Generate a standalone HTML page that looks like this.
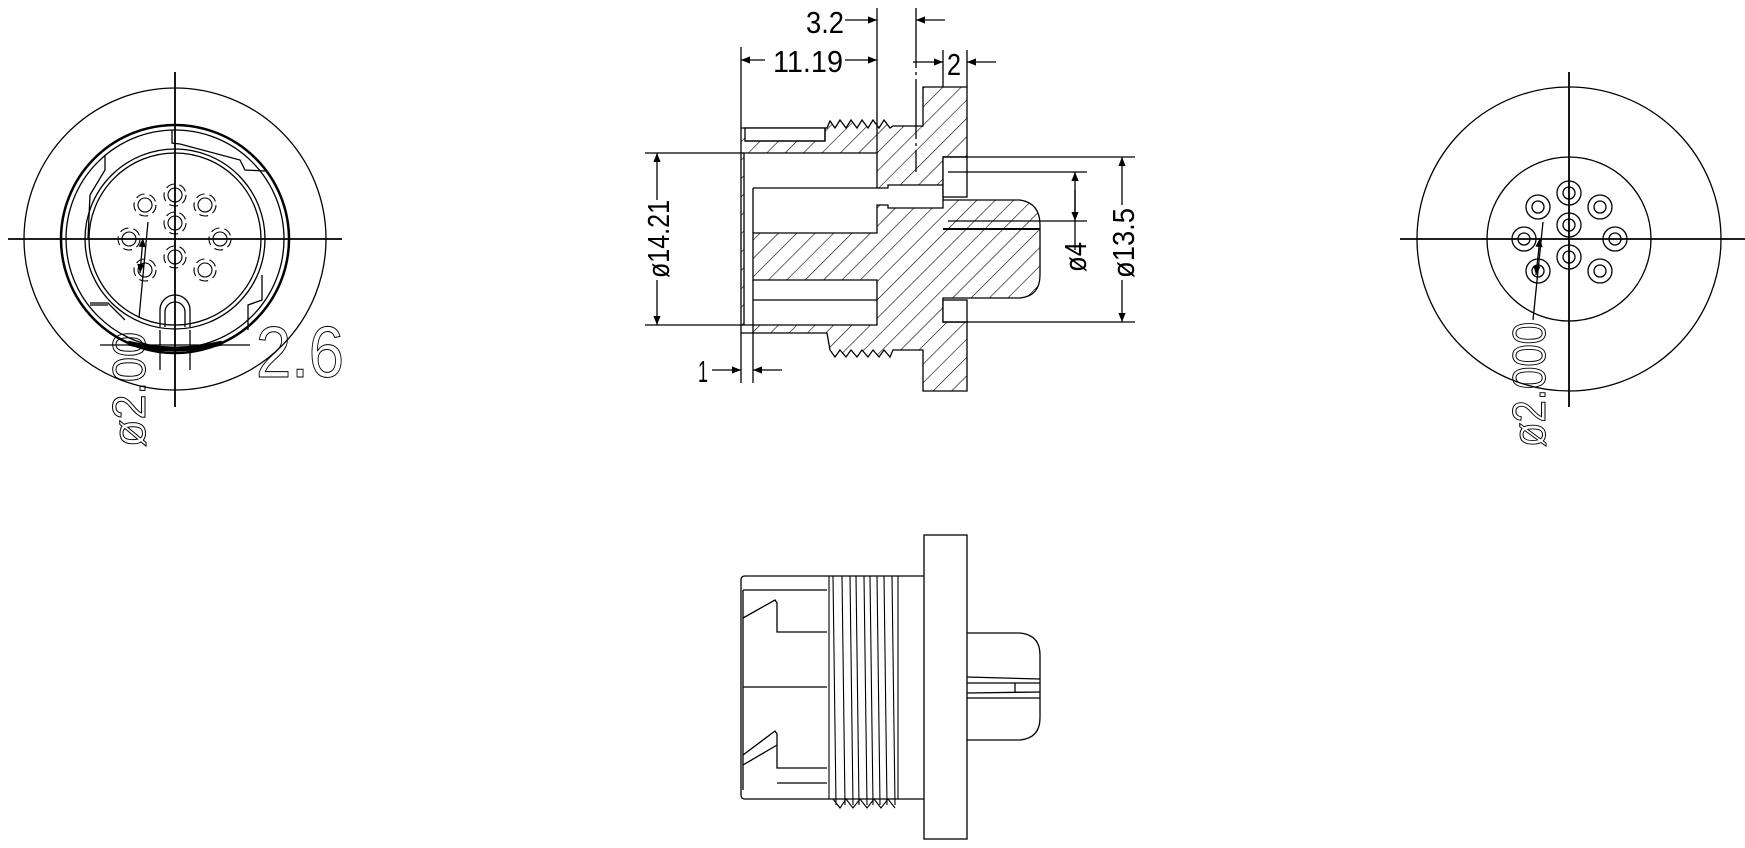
<!DOCTYPE html>
<html><head><meta charset="utf-8"><style>
html,body{margin:0;padding:0;background:#fff}
svg{display:block}
text{font-family:"Liberation Sans",sans-serif;fill:#000}
</style></head><body>
<svg width="1745" height="848" viewBox="0 0 1745 848" xmlns="http://www.w3.org/2000/svg">
<defs>
<pattern id="h" patternUnits="userSpaceOnUse" width="13" height="13" patternTransform="rotate(45)">
<rect width="13" height="13" fill="#fff"/><line x1="0" y1="0" x2="0" y2="13" stroke="#000" stroke-width="1.2"/>
</pattern>
<marker id="a" viewBox="0 0 10 10" refX="10" refY="5" markerWidth="16" markerHeight="9" markerUnits="userSpaceOnUse" orient="auto-start-reverse"><path d="M0,1 L10,5 L0,9z" fill="#000"/></marker>
</defs>
<g fill="none" stroke="#000" stroke-width="1.3">
<!-- LEFT VIEW -->
<circle cx="175" cy="239" r="151"/>
<circle cx="175" cy="239" r="114" stroke-width="2.5"/>
<circle cx="175" cy="239" r="109"/>
<circle cx="175" cy="239" r="90"/>
<circle cx="175" cy="239" r="86"/>
<path d="M172,130 L172,143 L180,144 L240,160 L245,170 L265,171"/>
<path d="M105,155 L105,170 L90,195 L88,238"/>
<path d="M108,305 L90,305 M90,303 L108,303 L125,320"/>
<path d="M262,275 L262,300 L248,305 L248,330"/>
<path d="M160,327 L160,310 A15,15 0 0 1 190,310 L190,327"/>
<path d="M165,327 L165,312 A10,10 0 0 1 185,312 L185,327"/>
<path d="M160,330 L160,370 M190,330 L190,370"/>
<line x1="100" y1="345" x2="250" y2="345"/>
<path d="M128,343 Q175,355 222,343" stroke-width="5"/>
<line x1="175" y1="72" x2="175" y2="407" stroke-width="1.8"/>
<line x1="8" y1="239" x2="342" y2="239" stroke-width="1.8"/>
<g stroke-width="1.1">
<circle cx="175" cy="195" r="7"/><circle cx="175" cy="223" r="7"/><circle cx="175" cy="257" r="7"/>
<circle cx="145" cy="205" r="7"/><circle cx="205" cy="205" r="7"/>
<circle cx="129" cy="239" r="7"/><circle cx="220" cy="239" r="7"/>
<circle cx="145" cy="270" r="7"/><circle cx="205" cy="270" r="7"/>
<g stroke-dasharray="9 5">
<circle cx="175" cy="195" r="11"/><circle cx="175" cy="223" r="11"/><circle cx="175" cy="257" r="11"/>
<circle cx="145" cy="205" r="11"/><circle cx="205" cy="205" r="11"/>
<circle cx="129" cy="239" r="11"/><circle cx="220" cy="239" r="11"/>
<circle cx="145" cy="270" r="11"/><circle cx="205" cy="270" r="11"/>
</g></g>
<line x1="148" y1="222" x2="139" y2="318"/>
<path d="M143,238 L140,273" marker-start="url(#a)" marker-end="url(#a)"/>

<!-- RIGHT VIEW -->
<circle cx="1569" cy="239" r="152"/>
<circle cx="1569" cy="239" r="82"/>
<line x1="1569" y1="72" x2="1569" y2="407" stroke-width="1.8"/>
<line x1="1400" y1="239" x2="1745" y2="239" stroke-width="1.8"/>
<g stroke-width="1.3">
<circle cx="1569" cy="193" r="12"/><circle cx="1569" cy="193" r="6"/>
<circle cx="1569" cy="225" r="12"/><circle cx="1569" cy="225" r="6"/>
<circle cx="1569" cy="257" r="12"/><circle cx="1569" cy="257" r="6"/>
<circle cx="1538" cy="207" r="12"/><circle cx="1538" cy="207" r="6"/>
<circle cx="1600" cy="207" r="12"/><circle cx="1600" cy="207" r="6"/>
<circle cx="1524" cy="239" r="12"/><circle cx="1524" cy="239" r="6"/>
<circle cx="1615" cy="239" r="12"/><circle cx="1615" cy="239" r="6"/>
<circle cx="1538" cy="271" r="12"/><circle cx="1538" cy="271" r="6"/>
<circle cx="1600" cy="271" r="12"/><circle cx="1600" cy="271" r="6"/>
</g>
<line x1="1543" y1="222" x2="1533" y2="320"/>
<path d="M1540,238 L1536,275" marker-start="url(#a)" marker-end="url(#a)"/>

<!-- SECTION VIEW -->
<path fill="url(#h)" d="M741,128 L827,128 L830,121 L835,128 L840,120 L846,128 L851,120 L857,128 L862,120 L868,128 L873,120 L879,128 L884,120 L890,128 L893,126 L923,126 L923,87 L967,87 L967,157 L943,157 L943,200 L1020,200 Q1040,203 1040,225 L1040,275 Q1040,296 1020,298 L967,298 L943,298 L943,322 L967,322 L967,391 L923,391 L923,350 L893,350 L890,357 L884,350 L879,357 L873,350 L868,357 L862,350 L857,357 L851,350 L846,357 L840,350 L835,357 L830,350 L827,333 L741,333 Z"/>
<rect x="745" y="128" width="80" height="13" fill="#fff"/>
<path d="M745,141 L825,141 L825,128"/>
<path fill="#fff" d="M744,153 L877,153 L877,188 L888,188 L888,185 L943,185 L943,208 L888,208 L888,205 L877,205 L877,233 L753,233 L753,280 L877,280 L877,325 L744,325 Z"/>
<line x1="753" y1="188" x2="877" y2="188"/>
<line x1="753" y1="188" x2="753" y2="233"/>
<line x1="753" y1="280" x2="753" y2="325"/>
<line x1="753" y1="300" x2="877" y2="300"/>
<rect x="943" y="157" width="24" height="40" fill="#fff"/>
<rect x="943" y="300" width="24" height="22" fill="#fff"/>
<line x1="943" y1="229" x2="1040" y2="229" stroke-width="2"/>
<line x1="943" y1="157" x2="1135" y2="157"/>
<line x1="943" y1="322" x2="1135" y2="322"/>
<line x1="948" y1="172" x2="1087" y2="172"/>
<line x1="948" y1="221" x2="1087" y2="221"/>
<line x1="645" y1="153" x2="744" y2="153"/>
<line x1="645" y1="325" x2="744" y2="325"/>
<!-- dims -->
<line x1="877" y1="8" x2="877" y2="153"/>
<line x1="916" y1="8" x2="916" y2="172" stroke-dasharray="60 4 3 4"/>
<line x1="845" y1="20" x2="877" y2="20" marker-end="url(#a)"/>
<line x1="945" y1="20" x2="916" y2="20" marker-end="url(#a)"/>
<line x1="741" y1="47" x2="741" y2="128"/>
<line x1="765" y1="60" x2="741" y2="60" marker-end="url(#a)"/>
<line x1="845" y1="60" x2="877" y2="60" marker-end="url(#a)"/>
<line x1="943" y1="50" x2="943" y2="87"/>
<line x1="967" y1="50" x2="967" y2="87"/>
<line x1="913" y1="62" x2="943" y2="62" marker-end="url(#a)"/>
<line x1="996" y1="62" x2="967" y2="62" marker-end="url(#a)"/>
<line x1="741" y1="333" x2="741" y2="383"/>
<line x1="753" y1="325" x2="753" y2="383"/>
<line x1="712" y1="370" x2="741" y2="370" marker-end="url(#a)"/>
<line x1="782" y1="370" x2="753" y2="370" marker-end="url(#a)"/>
<line x1="657" y1="200" x2="657" y2="153" marker-end="url(#a)"/>
<line x1="657" y1="280" x2="657" y2="325" marker-end="url(#a)"/>
<line x1="1122" y1="205" x2="1122" y2="157" marker-end="url(#a)"/>
<line x1="1122" y1="280" x2="1122" y2="322" marker-end="url(#a)"/>
<line x1="1075" y1="250" x2="1075" y2="172" marker-end="url(#a)"/>
<line x1="1075" y1="190" x2="1075" y2="221" marker-end="url(#a)"/>

<!-- BOTTOM VIEW -->
<rect x="924" y="535" width="43" height="304"/>
<path d="M924,576 L745,576 Q741,576 741,580 L741,795 Q741,799 745,799 L924,799"/>
<path d="M743,590 L743,790"/>
<path d="M743,590 L827,590 M743,618 L775,600 L777,603 L777,632 L827,632 M743,687 L827,687 M743,755 L775,731 L777,734 L777,768 L827,768 M777,783 L827,783 M743,765 L777,745"/>
<g stroke-width="1.1">
<path d="M829,576 L829,799 M833,576 L836,805 M842,576 L845,805 M850,576 L853,805 M856,576 L859,805 M864,576 L867,805 M870,576 L873,805 M877,576 L880,805 M884,576 L887,805 M892,576 L895,805 M898,576 L898,799"/>
<path d="M833,799 L840,808 L846,799 L853,808 L860,799 L867,808 L874,799 L881,808 L888,799 L895,808"/>
</g>
<path d="M967,633 L1020,633 Q1040,635 1040,655 L1040,718 Q1040,738 1020,740 L967,740"/>
<path d="M967,677 L1040,679 M967,683 L1040,683 M967,693 L1040,692 M967,698 L1040,698 M1015,683 L1015,693"/>
</g>

<!-- TEXT -->
<text x="806" y="33" font-size="31" textLength="38" lengthAdjust="spacingAndGlyphs">3.2</text>
<text x="773" y="72" font-size="31" textLength="70" lengthAdjust="spacingAndGlyphs">11.19</text>
<text x="947" y="75" font-size="31" textLength="14" lengthAdjust="spacingAndGlyphs">2</text>
<text x="698" y="382" font-size="31" textLength="10" lengthAdjust="spacingAndGlyphs">1</text>
<text transform="translate(669,278) rotate(-90)" font-size="31" textLength="78" lengthAdjust="spacingAndGlyphs">ø14.21</text>
<text transform="translate(1086,272) rotate(-90)" font-size="31" textLength="30" lengthAdjust="spacingAndGlyphs">ø4</text>
<text transform="translate(1134,278) rotate(-90)" font-size="31" textLength="70" lengthAdjust="spacingAndGlyphs">ø13.5</text>
<text x="256" y="377" font-size="72" textLength="88" lengthAdjust="spacingAndGlyphs" stroke="#000" stroke-width="1" style="fill:none">2.6</text>
<text transform="translate(145,447) rotate(-90)" font-size="46" textLength="115" lengthAdjust="spacingAndGlyphs" style="fill:none" stroke="#000" stroke-width="1">ø2.00</text>
<text transform="translate(1545,447) rotate(-90)" font-size="46" textLength="125" lengthAdjust="spacingAndGlyphs" style="fill:none" stroke="#000" stroke-width="1">ø2.000</text>
</svg>
</body></html>
